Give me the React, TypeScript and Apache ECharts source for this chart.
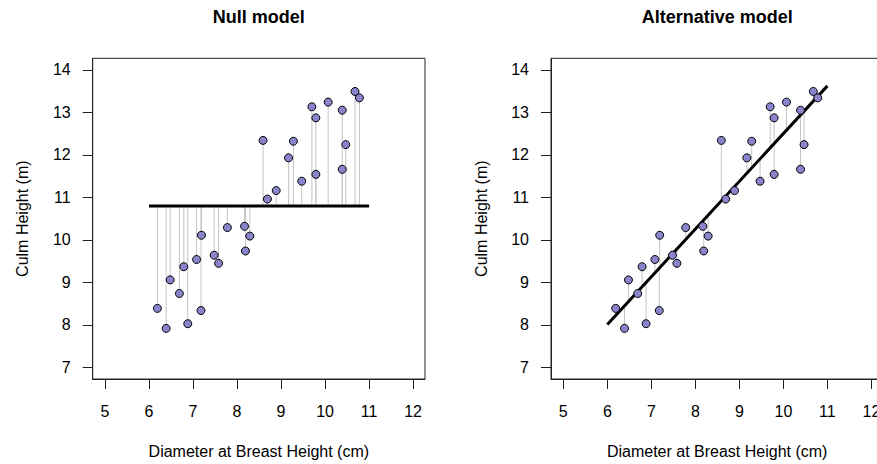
import { useEffect, useRef } from "react";
import * as echarts from "echarts";

// Data
const dbh = [
  6.19, 6.39, 6.48, 6.69, 6.79, 6.88, 7.08, 7.18, 7.19, 7.48, 7.58, 7.78, 8.17, 8.19, 8.29,
  8.59, 8.69, 8.89, 9.17, 9.28, 9.47, 9.7, 9.79, 9.79, 10.07, 10.39, 10.39, 10.47, 10.68, 10.78,
];
const culmHeight = [
  8.39, 7.92, 9.06, 8.74, 9.37, 8.03, 9.54, 8.34, 10.11, 9.64, 9.45, 10.29, 10.32, 9.74, 10.09,
  12.34, 10.96, 11.16, 11.93, 12.32, 11.38, 13.13, 12.87, 11.54, 13.24, 13.05, 11.66, 12.24, 13.49, 13.34,
];
const xTicks = [5, 6, 7, 8, 9, 10, 11, 12];
const yTicks = [7, 8, 9, 10, 11, 12, 13, 14];
const nullMean = 10.8;
const fitIntercept = 1.28;
const fitSlope = 1.122;
const lineFrom = 6;
const lineTo = 11;
const panelTitles = ["Null model", "Alternative model"];
const xName = "Diameter at Breast Height (cm)";
const yName = "Culm Height (m)";

const FONT = "'Liberation Sans', Arial, Helvetica, sans-serif";

export default function App() {
  const ref = useRef<HTMLDivElement>(null);
  useEffect(() => {
    document.body.style.margin = "0";
    const chart = echarts.init(ref.current!, null, { renderer: "svg" });
    const grids = [
      { left: 92.7, top: 58.3, width: 332.3, height: 321.7 },
      { left: 551, top: 58.3, width: 332.3, height: 321.7 },
    ];
    const models = [
      (_x: number) => nullMean,
      (x: number) => fitIntercept + fitSlope * x,
    ];
    const axisCommon = {
      axisLine: { show: true, lineStyle: { color: "#222", width: 1 } },
      splitLine: { show: false },
    };
    const xAxes = grids.map((_, i) => ({
      type: "value",
      gridIndex: i,
      min: 4.72,
      max: 12.27,
      ...axisCommon,
      axisTick: { show: true, customValues: xTicks, length: 10, lineStyle: { color: "#222" } },
      axisLabel: { customValues: xTicks, margin: 24, fontSize: 16, color: "#000", fontFamily: FONT },
      name: xName,
      nameLocation: "middle",
      nameGap: 64,
      nameTextStyle: { fontSize: 16, color: "#000", fontFamily: FONT },
    }));
    const yAxes = grids.map((_, i) => ({
      type: "value",
      gridIndex: i,
      min: 6.73,
      max: 14.27,
      ...axisCommon,
      axisTick: { show: true, customValues: yTicks, length: 10, lineStyle: { color: "#222" } },
      axisLabel: { customValues: yTicks, margin: 22, fontSize: 16, color: "#000", fontFamily: FONT },
      name: yName,
      nameLocation: "middle",
      nameGap: 62,
      nameTextStyle: { fontSize: 16, color: "#000", fontFamily: FONT },
    }));
    const series: any[] = [];
    grids.forEach((_, i) => {
      const f = models[i];
      series.push({
        type: "custom",
        xAxisIndex: i,
        yAxisIndex: i,
        z: 1,
        encode: { x: 0, y: 1 },
        data: dbh.map((x, k) => [x, culmHeight[k], f(x)]),
        renderItem: (_p: any, api: any) => {
          const a = api.coord([api.value(0), api.value(1)]);
          const b = api.coord([api.value(0), api.value(2)]);
          return {
            type: "line",
            shape: { x1: a[0], y1: a[1], x2: b[0], y2: b[1] },
            style: { stroke: "#c4c4c4", lineWidth: 1 },
          };
        },
      });
      series.push({
        type: "line",
        xAxisIndex: i,
        yAxisIndex: i,
        z: 2,
        symbol: "none",
        data: [
          [lineFrom, f(lineFrom)],
          [lineTo, f(lineTo)],
        ],
        lineStyle: { color: "#000", width: 3 },
      });
      series.push({
        type: "scatter",
        xAxisIndex: i,
        yAxisIndex: i,
        z: 3,
        symbolSize: 8,
        data: dbh.map((x, k) => [x, culmHeight[k]]),
        itemStyle: { color: "#8a84cc", borderColor: "#000", borderWidth: 1, opacity: 1 },
      });
    });
    chart.setOption({
      animation: false,
      backgroundColor: "#fff",
      grid: grids.map((g) => ({ ...g, show: true, borderColor: "#222", borderWidth: 1, backgroundColor: "transparent" })),
      xAxis: xAxes,
      yAxis: yAxes,
      series,
      graphic: grids.map((g, i) => ({
        type: "text",
        x: g.left + g.width / 2,
        y: 17,
        style: {
          text: panelTitles[i],
          textAlign: "center",
          textVerticalAlign: "middle",
          font: `bold 18px ${FONT}`,
          fill: "#000",
        },
      })),
    });
    return () => chart.dispose();
  }, []);
  return (
    <div style={{ width: 877, height: 464, overflow: "hidden", position: "relative" }}>
      <div ref={ref} style={{ width: 900, height: 464 }} />
    </div>
  );
}
